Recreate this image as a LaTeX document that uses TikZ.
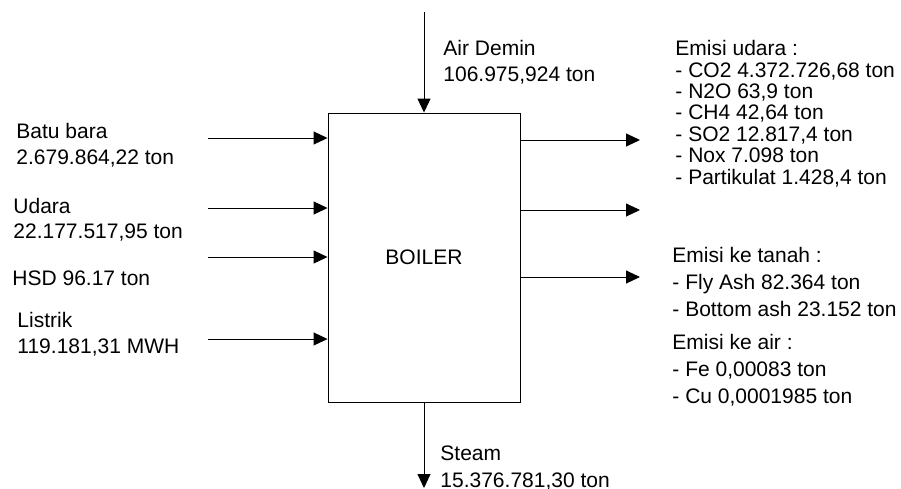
\documentclass[tikz,border=0pt]{standalone}
\usepackage{fontspec}
\setmainfont{Liberation Sans}
\usetikzlibrary{arrows.meta}

\begin{document}
\begin{tikzpicture}[x=1pt,y=-1pt,>={Triangle[length=14pt,width=13pt]},line width=0.9pt,
    lbl/.style={inner sep=0pt,anchor=base west,align=left,font=\fontsize{21}{26.5}\selectfont}]
  \useasboundingbox (0,0) rectangle (901,488);
  \node[draw,minimum width=192pt,minimum height=289pt,inner sep=0pt,font=\fontsize{21}{25}\selectfont] (boiler) at (424,257.5) {BOILER};
  % inputs
  \coordinate (in1) at (208,138);
  \coordinate (in2) at (208,208);
  \coordinate (in3) at (208,257);
  \coordinate (in4) at (208,339);
  \coordinate (top) at (424,12);
  \draw[->] (in1) -- (in1 -| boiler.west);
  \draw[->] (in2) -- (in2 -| boiler.west);
  \draw[->] (in3) -- (in3 -| boiler.west);
  \draw[->] (in4) -- (in4 -| boiler.west);
  \draw[->] (top) -- (boiler.north);
  % outputs
  \coordinate (out1) at (640,140);
  \coordinate (out2) at (640,210);
  \coordinate (out3) at (640,277);
  \coordinate (bot) at (424,488);
  \draw[->] (out1 -| boiler.east) -- (out1);
  \draw[->] (out2 -| boiler.east) -- (out2);
  \draw[->] (out3 -| boiler.east) -- (out3);
  \draw[->] (boiler.south) -- (bot);
  % labels (anchored at the last line's baseline)
  \node[lbl,font=\fontsize{21}{26}\selectfont] (bb) at (16,164.3) {Batu bara\\2.679.864,22 ton};
  \node[lbl,font=\fontsize{21}{25}\selectfont] (ud) at (13,238.3) {Udara\\22.177.517,95 ton};
  \node[lbl] (hsd) at (12,285.7) {HSD 96.17 ton};
  \node[lbl,font=\fontsize{21}{26}\selectfont] (lis) at (17,353.3) {Listrik\\119.181,31 MWH};
  \node[lbl] (ad) at (443,81.7) {Air Demin\\106.975,924 ton};
  \node[lbl,font=\fontsize{21}{27}\selectfont] (st) at (440,487) {Steam\\15.376.781,30 ton};
  \node[lbl,font=\fontsize{21}{21.35}\selectfont] (eu) at (675,184) {Emisi udara :\\- CO2 4.372.726,68 ton\\- N2O 63,9 ton\\- CH4 42,64 ton\\- SO2 12.817,4 ton\\- Nox 7.098 ton\\- Partikulat 1.428,4 ton};
  \node[lbl,font=\fontsize{21}{26.8}\selectfont] (et) at (672,316) {Emisi ke tanah :\\- Fly Ash 82.364 ton\\- Bottom ash 23.152 ton};
  \node[lbl,font=\fontsize{21}{27}\selectfont] (ea) at (672,403.3) {Emisi ke air :\\- Fe 0,00083 ton\\- Cu 0,0001985 ton};
\end{tikzpicture}
\end{document}
